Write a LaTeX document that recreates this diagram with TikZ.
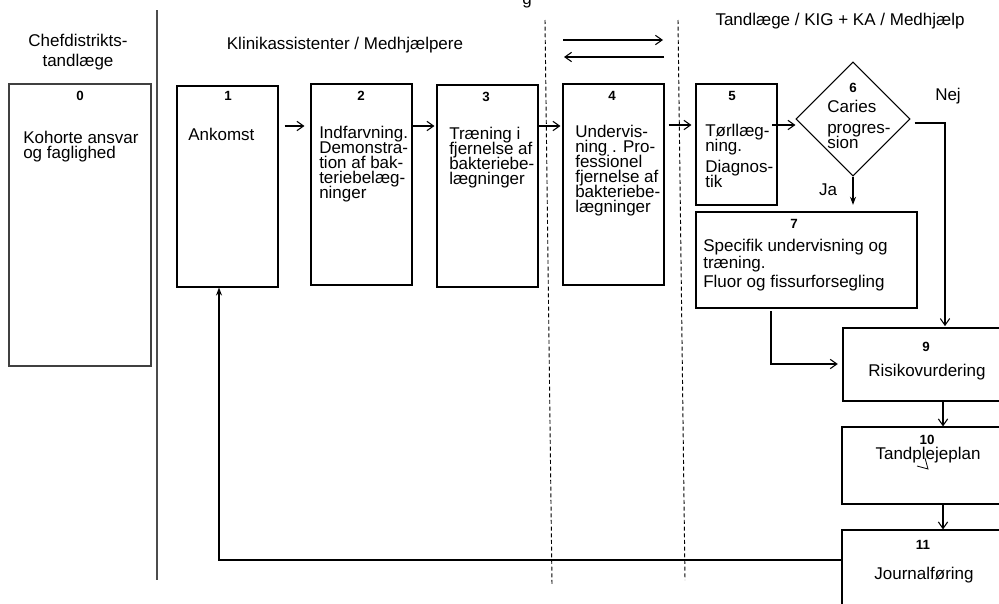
\documentclass[tikz,border=0pt]{standalone}
\usepackage{fontspec}
\setmainfont{Liberation Sans}
\usetikzlibrary{fit,shapes.geometric,arrows.meta}
\tikzset{
 box/.style={draw, line width=0.8pt, inner sep=0pt},
 num/.style={font=\fontsize{10}{12}\selectfont\bfseries, inner sep=0pt},
 txt/.style={font={\fontsize{12.75}{11.25}\selectfont\lineskiplimit=-20pt\lineskip=0pt}, align=left, inner sep=0pt, anchor=north west},
 ttl/.style={font=\fontsize{12.75}{15}\selectfont, align=center, inner sep=0pt},
 arr/.style={line width=0.8pt, -{Straight Barb[length=5pt,width=7pt]}},
 sarr/.style={line width=0.8pt, -{Stealth[length=6pt,width=4.5pt]}},
 sepline/.style={line width=0.7pt, dash pattern=on 3pt off 2pt},
 plain/.style={line width=0.8pt}
}
\begin{document}
\begin{tikzpicture}[x=0.75pt,y=-0.75pt]
\useasboundingbox (0,0) rectangle (999,603);
% cut title fragment
\node[ttl, anchor=base] (g) at (527,4) {g};
% lane separators
\coordinate (s0t) at (157,10); \coordinate (s0b) at (157,580);
\draw[line width=0.9pt, black!70] (s0t) -- (s0b);
\coordinate (s1t) at (545,20); \coordinate (s1b) at (552,585);
\draw[sepline] (s1t) -- (s1b);
\coordinate (s2t) at (678,20); \coordinate (s2b) at (685,580);
\draw[sepline] (s2t) -- (s2b);
% lane titles
\node[ttl] (h0) at (78,52) {Chefdistrikts-\\tandlæge};
\node[ttl] (h1) at (345,45) {Klinikassistenter / Medhjælpere};
\node[ttl] (h2) at (840,21) {Tandlæge / KIG + KA / Medhjælp};
% exchange arrows
\coordinate (e1a) at (563,40); \coordinate (e1b) at (663,40);
\coordinate (e2a) at (664,57); \coordinate (e2b) at (564,57);
\draw[arr] (e1a) -- (e1b);
\draw[arr] (e2a) -- (e2b);
% boxes
\node[box, draw=black!75, fit={(9,84)(151,366)}] (b0) {};
\node[box, fit={(177,86)(278,287)}] (b1) {};
\node[box, fit={(311,84)(412,285)}] (b2) {};
\node[box, fit={(437,85)(538,287)}] (b3) {};
\node[box, fit={(563,84)(664,285)}] (b4) {};
\node[box, fit={(696,84)(777,205)}] (b5) {};
\node[box, diamond, minimum width=85.5pt, minimum height=85.5pt] (d6) at (853,119) {};
\node[box, fit={(696,212)(917,308)}] (b7) {};
\node[box, fit={(843,328)(1010,401)}] (b9) {};
\node[box, fit={(842,427)(1010,504)}] (b10) {};
\node[box, fit={(842,530)(1010,615)}] (b11) {};
% numbers
\node[num] (n0) at (80,96) {0};
\node[num] (n1) at (228,96) {1};
\node[num] (n2) at (361,96) {2};
\node[num] (n3) at (486,97) {3};
\node[num] (n4) at (612,96) {4};
\node[num] (n5) at (732,96) {5};
\node[num] (n6) at (853,88) {6};
\node[num] (n7) at (794,224) {7};
\node[num] (n9) at (926,347) {9};
\node[num] (n10) at (927,440) {10};
\node[num] (n11) at (923,545) {11};
% texts
\node[txt] (t0) at (23,131) {Kohorte ansvar\\og faglighed};
\node[txt] (t1) at (188,128) {Ankomst};
\node[txt] (t2) at (319,126) {Indfarvning.\\Demonstra-\\tion af bak-\\teriebelæg-\\ninger};
\node[txt] (t3) at (449,127) {Træning i\\fjernelse af\\bakteriebe-\\lægninger};
\node[txt] (t4) at (575,125) {Undervis-\\ning . Pro-\\fessionel\\fjernelse af\\bakteriebe-\\lægninger};
\node[txt] (t5) at (705,124) {Tørllæg-\\ning.\\[4.5pt]Diagnos-\\tik};
\node[txt] (t6) at (827,100) {Caries\\[4.5pt]progres-\\sion};
\node[txt, font={\fontsize{12.75}{13}\selectfont\lineskiplimit=-20pt\lineskip=0pt}] (t7) at (703,239) {Specifik undervisning og\\træning.\\[1pt]Fluor og fissurforsegling};
\node[ttl] (t9) at (927,372) {Risikovurdering};
\node[ttl] (t10) at (928,455) {Tandplejeplan};
\node[ttl] (t11) at (924,575) {Journalføring};
\node[ttl] (nej) at (948,96) {Nej};
\node[ttl] (ja) at (828,190) {Ja};
% stray mark in box 10
\coordinate (m1) at (925,458); \coordinate (m2) at (928,469); \coordinate (m3) at (917,466);
\draw[line width=0.6pt] (m1) -- (m2) -- (m3);
% flow arrows
\coordinate (y1) at (0,126);
\draw[arr, shorten <=4.5pt, shorten >=4.5pt] (b1.east |- y1) -- (b2.west |- y1);
\draw[arr, shorten >=1.5pt] (b2.east |- y1) -- (b3.west |- y1);
\draw[arr, shorten >=1.5pt] (b3.east |- y1) -- (b4.west |- y1);
\coordinate (y2) at (0,125);
\draw[arr, shorten <=3pt, shorten >=3pt] (b4.east |- y2) -- (b5.west |- y2);
\coordinate (a56) at (772,125);
\draw[arr] (a56) -- (d6.west |- a56);
\draw[sarr, shorten >=5pt] (d6.south) -- (b7.north -| d6.south);
\coordinate (nj) at (945,123);
\draw[arr, shorten <=3pt, shorten >=1pt] (d6.east |- nj) -- (nj) -- (b9.north -| nj);
\coordinate (c79) at (771,364);
\draw[arr, shorten <=2pt, shorten >=3.5pt] (b7.south -| c79) -- (c79) -- (b9.west |- c79);
\coordinate (vx) at (943,0);
\draw[arr] (b9.south -| vx) -- (b10.north -| vx);
\draw[arr] (b10.south -| vx) -- (b11.north -| vx);
\coordinate (r1) at (219,560);
\draw[sarr] (b11.west |- r1) -- (r1) -- (b1.south -| r1);
\end{tikzpicture}
\end{document}
